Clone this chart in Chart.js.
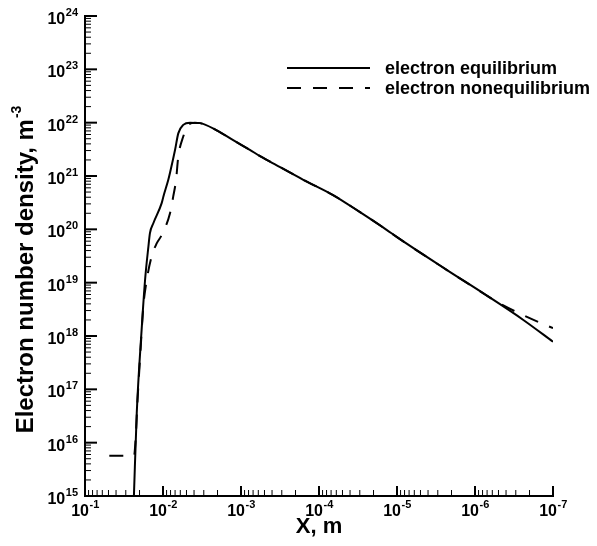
<!DOCTYPE html>
<html>
<head>
<meta charset="utf-8">
<script src="https://cdn.jsdelivr.net/npm/chart.js@4.4.1/dist/chart.umd.min.js"></script>
<style>
    body { margin: 0; background: #fff; }
</style>
</head>
<body>
<canvas id="grafico" width="597" height="546"></canvas>
<script>
// electron equilibrium
const eqX = [2.36e-2, 2.17e-2, 1.88e-2, 1.70e-2, 1.54e-2, 1.47e-2, 1.33e-2, 1.04e-2, 9.9e-3, 8.55e-3,
    8.13e-3, 7.0e-3, 6.37e-3, 5.5e-3, 4.5e-3, 3.36e-3, 2.05e-3, 1.26e-3, 7.7e-4, 5.7e-4,
    4.25e-4, 1.59e-4, 6.6e-5, 2.98e-5, 1.36e-5, 1.01e-5, 2.31e-6, 7.8e-7, 2.4e-7, 1e-7]
const eqY = [1e15, 3.6e16, 1.3e18, 1.1e19, 4.7e19, 8.5e19, 1.3e20, 3.1e20, 4.1e20, 8.5e20,
    1.15e21, 3.1e21, 6.3e21, 9.1e21, 1.0e22, 9.8e21, 7.2e21, 4.7e21, 3.1e21, 2.35e21,
    1.86e21, 8.5e20, 4.4e20, 2.1e20, 9.8e19, 7.2e19, 1.74e19, 6.3e18, 2.0e18, 7.8e17]

// electron nonequilibrium
const neqX = [4.88e-2, 2.35e-2, 2.25e-2, 2.12e-2, 1.94e-2, 1.79e-2, 1.62e-2, 1.40e-2, 1.20e-2, 1.04e-2,
    8.13e-3, 7.4e-3, 6.8e-3, 6.37e-3, 5.5e-3, 4.74e-3, 3.9e-3, 3.36e-3, 2.05e-3, 1.26e-3,
    7.7e-4, 5.7e-4, 4.25e-4, 1.59e-4, 6.6e-5, 2.98e-5, 1.36e-5, 1.01e-5, 2.31e-6, 7.8e-7,
    5.3e-7, 2.4e-7, 1e-7]
const neqY = [5.7e15, 5.7e15, 1.1e16, 6.3e16, 5.5e17, 3.5e18, 1.1e19, 3.1e19, 5.5e19, 7.8e19,
    2.0e20, 4.1e20, 8.5e20, 2.3e21, 5.5e21, 9.1e21, 1.0e22, 9.8e21, 7.2e21, 4.7e21,
    3.1e21, 2.35e21, 1.86e21, 8.5e20, 4.4e20, 2.1e20, 9.8e19, 7.2e19, 1.74e19, 6.3e18,
    4.4e18, 2.45e18, 1.4e18]

// expoentes dos rotulos
const xExps = [-1, -2, -3, -4, -5, -6, -7]
const yExps = [15, 16, 17, 18, 19, 20, 21, 22, 23, 24]

const fonte = '"Liberation Sans", Arial, Helvetica, sans-serif'

function juntaPontos(xs, ys) {
    return xs.map((x, i) => ({ x: x, y: ys[i] }))
}

function linha(ctx, x1, y1, x2, y2, largura) {
    ctx.lineWidth = largura
    ctx.beginPath()
    ctx.moveTo(x1, y1)
    ctx.lineTo(x2, y2)
    ctx.stroke()
}

// "10" com expoente, retorna larguras das duas partes
function medePotencia(ctx, exp, tamBase, tamExp) {
    ctx.font = 'bold ' + tamBase + 'px ' + fonte
    let w1 = ctx.measureText('10').width
    ctx.font = 'bold ' + tamExp + 'px ' + fonte
    let w2 = ctx.measureText(String(exp)).width
    return [w1, w2]
}

function desenhaPotencia(ctx, exp, x, base, subida, tamBase, tamExp) {
    let [w1, w2] = medePotencia(ctx, exp, tamBase, tamExp)
    ctx.textAlign = 'left'
    ctx.textBaseline = 'alphabetic'
    ctx.font = 'bold ' + tamBase + 'px ' + fonte
    ctx.fillText('10', x, base)
    ctx.font = 'bold ' + tamExp + 'px ' + fonte
    ctx.fillText(String(exp), x + w1 + 0.5, base - subida)
}

const eixosTecplot = {
    id: 'eixosTecplot',
    afterDraw(chart) {
        const { ctx, chartArea, scales } = chart
        const area = chartArea
        ctx.save()
        ctx.strokeStyle = '#000'
        ctx.fillStyle = '#000'

        // marcas do eixo y
        yExps.forEach((e, i) => {
            let py = scales.y.getPixelForValue(10 ** e)
            linha(ctx, area.left, py, area.left + 12, py, 2)
            if (i < yExps.length - 1) {
                for (let m = 2; m < 10; m++) {
                    let pm = scales.y.getPixelForValue(m * 10 ** e)
                    linha(ctx, area.left, pm, area.left + 6, pm, 1)
                }
            }
            let [w1, w2] = medePotencia(ctx, e, 16, 11)
            desenhaPotencia(ctx, e, 78 - w1 - w2 - 0.5, py + 8, 8, 16, 11)
        })

        // marcas do eixo x
        xExps.forEach((e, i) => {
            let px = scales.x.getPixelForValue(10 ** e)
            linha(ctx, px, area.bottom, px, area.bottom - 10, 2)
            if (i < xExps.length - 1) {
                for (let m = 2; m < 10; m++) {
                    let pm = scales.x.getPixelForValue(m * 10 ** (e - 1))
                    linha(ctx, pm, area.bottom, pm, area.bottom - 6, 1)
                }
            }
            let [w1, w2] = medePotencia(ctx, e, 16, 11)
            desenhaPotencia(ctx, e, px - (w1 + w2) / 2, 516, 8, 16, 11)
        })

        // titulo do eixo y
        ctx.save()
        ctx.translate(24, 270)
        ctx.rotate(-Math.PI / 2)
        ctx.font = 'bold 24px ' + fonte
        let t1 = 'Electron number density, m'
        let wt = ctx.measureText(t1).width
        ctx.font = 'bold 14px ' + fonte
        let ws = ctx.measureText('-3').width
        let x0 = -(wt + ws) / 2
        ctx.textAlign = 'left'
        ctx.textBaseline = 'alphabetic'
        ctx.font = 'bold 24px ' + fonte
        ctx.fillText(t1, x0, 8.5)
        ctx.font = 'bold 14px ' + fonte
        ctx.fillText('-3', x0 + wt + 1, -3)
        ctx.restore()

        // legenda
        chart.data.datasets.forEach((ds, i) => {
            let ly = 68 + i * 20
            ctx.setLineDash(ds.borderDash || [])
            ctx.strokeStyle = ds.borderColor
            linha(ctx, 287, ly, 370, ly, 2)
            ctx.setLineDash([])
            ctx.font = 'bold 18px ' + fonte
            ctx.textAlign = 'left'
            ctx.textBaseline = 'alphabetic'
            ctx.fillText(ds.label, 385, ly + 6)
        })
        ctx.restore()
    }
}

const grafico = document.getElementById('grafico')

const graficoEletrons = new Chart(grafico, {
    type: 'line',
    data: {
        datasets: [{
            label: 'electron equilibrium',
            data: juntaPontos(eqX, eqY),
            borderColor: '#000',
            borderWidth: 2,
            pointRadius: 0,
            cubicInterpolationMode: 'monotone'
        }, {
            label: 'electron nonequilibrium',
            data: juntaPontos(neqX, neqY),
            borderColor: '#000',
            borderWidth: 2,
            borderDash: [14, 12],
            pointRadius: 0,
            cubicInterpolationMode: 'monotone'
        }]
    },
    options: {
        responsive: false,
        animation: false,
        layout: { padding: { top: 16, right: 44, left: 0, bottom: 0 } },
        plugins: {
            legend: { display: false },
            tooltip: { enabled: false }
        },
        scales: {
            x: {
                type: 'logarithmic',
                reverse: true,
                min: 1e-7,
                max: 1e-1,
                ticks: { display: false },
                grid: { display: false },
                border: { display: true, width: 2, color: '#000' },
                title: {
                    display: true,
                    text: 'X, m',
                    color: '#000',
                    font: { family: fonte, size: 22, weight: 'bold' },
                    padding: { top: 0, bottom: 6 }
                },
                afterFit: s => { s.height = 50 }
            },
            y: {
                type: 'logarithmic',
                min: 1e15,
                max: 1e24,
                ticks: { display: false },
                grid: { display: false },
                border: { display: true, width: 2, color: '#000' },
                afterFit: s => { s.width = 85 }
            }
        }
    },
    plugins: [eixosTecplot]
})
</script>
</body>
</html>
